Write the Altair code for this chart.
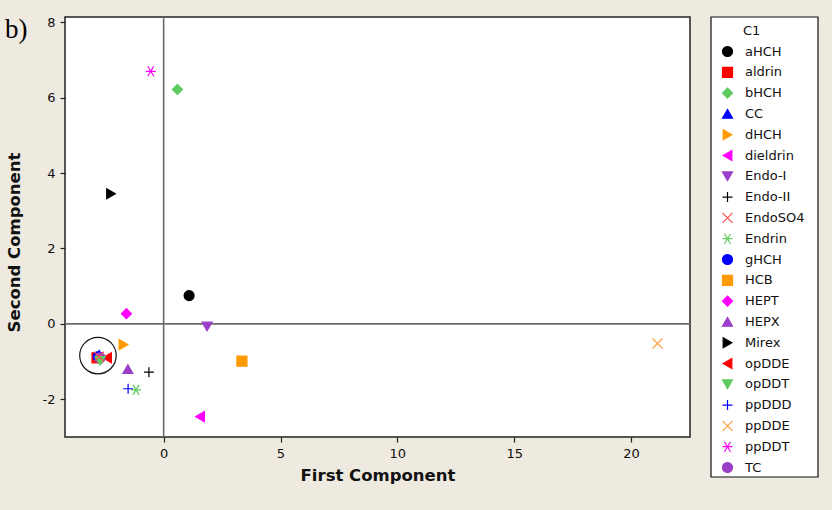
import altair as alt
import pandas as pd

# ---- data ----
names = ["aldrin", "opDDE", "CC", "gHCH", "TC", "opDDT", "EndoSO4",
         "aHCH", "bHCH", "dHCH", "dieldrin", "Endo-I", "Endo-II", "Endrin",
         "HCB", "HEPT", "HEPX", "Mirex", "ppDDD", "ppDDE", "ppDDT"]
first = [-2.85, -2.42, -2.76, -2.80, -2.72, -2.72, -2.76,
         1.09, 0.59, -1.72, 1.56, 1.86, -0.63, -1.18,
         3.35, -1.59, -1.53, -2.25, -1.52, 21.13, -0.55]
second = [-0.90, -0.90, -0.82, -0.87, -0.90, -0.98, -0.87,
          0.75, 6.22, -0.55, -2.46, -0.07, -1.28, -1.75,
          -0.99, 0.27, -1.20, 3.45, -1.72, -0.52, 6.70]

legend_order = ["aHCH", "aldrin", "bHCH", "CC", "dHCH", "dieldrin", "Endo-I",
                "Endo-II", "EndoSO4", "Endrin", "gHCH", "HCB", "HEPT", "HEPX",
                "Mirex", "opDDE", "opDDT", "ppDDD", "ppDDE", "ppDDT", "TC"]

BLACK, RED, GREEN, BLUE = "#000000", "#FF0000", "#5FCB5F", "#0000FF"
ORANGE, MAGENTA, PURPLE = "#FF9900", "#FF00FF", "#9B3FC9"
PLUS = "M-1,0L1,0M0,-1L0,1"
XSH = "M-1,-1L1,1M-1,1L1,-1"
AST = "M-1,0L1,0M-0.6,-1L0.6,1M-0.6,1L0.6,-1"

stroke_colors = [BLACK, RED, GREEN, BLUE, ORANGE, MAGENTA, PURPLE,
                 BLACK, "#FF5050", GREEN, BLUE, ORANGE, MAGENTA, PURPLE,
                 BLACK, RED, GREEN, BLUE, "#FFA040", MAGENTA, PURPLE]
shapes = ["circle", "square", "diamond", "triangle-up", "triangle-right",
          "triangle-left", "triangle-down", PLUS, XSH, AST, "circle", "square",
          "diamond", "triangle-up", "triangle-right", "triangle-left",
          "triangle-down", PLUS, XSH, AST, "circle"]
line_shapes = {PLUS, XSH, AST}
fill_colors = ["transparent" if s in line_shapes else c
               for s, c in zip(shapes, stroke_colors)]

df = pd.DataFrame({"C1": names, "First Component": first,
                   "Second Component": second})

circle_x = [-2.81]
circle_y = [-0.84]

W, H = 625, 420
XDOM = [-4.22, 22.52]
YDOM = [-3.0, 8.14]
FONT = "DejaVu Sans"
HYPHEN_LABEL = "datum.value < 0 ? '-' + abs(datum.value) : '' + datum.value"

xscale = alt.Scale(domain=XDOM, nice=False, zero=False)
yscale = alt.Scale(domain=YDOM, nice=False, zero=False)

xaxis = alt.Axis(values=[0, 5, 10, 15, 20], grid=False, domain=False,
                 tickSize=5, tickColor="#222", tickWidth=1.2,
                 labelFont=FONT, labelFontSize=13, labelColor="#111",
                 labelPadding=5, labelExpr=HYPHEN_LABEL,
                 title="First Component", titleFont=FONT,
                 titleFontSize=16.5, titleFontWeight="bold", titleColor="#111",
                 titlePadding=7)
yaxis = alt.Axis(values=[-2, 0, 2, 4, 6, 8], grid=False, domain=False,
                 tickSize=5, tickColor="#222", tickWidth=1.2,
                 labelFont=FONT, labelFontSize=13, labelColor="#111",
                 labelPadding=5, labelExpr=HYPHEN_LABEL,
                 title="Second Component", titleFont=FONT,
                 titleFontSize=16.5, titleFontWeight="bold", titleColor="#111",
                 titleX=-51, titleY=225, titleAngle=-90,
                 titleAlign="center", titleBaseline="middle")

base = alt.Chart(df)

points = base.mark_point(opacity=1, size=100, strokeWidth=1.2).encode(
    x=alt.X("First Component:Q", scale=xscale, axis=xaxis),
    y=alt.Y("Second Component:Q", scale=yscale, axis=yaxis),
    shape=alt.Shape("C1:N", scale=alt.Scale(domain=legend_order, range=shapes),
                    legend=alt.Legend(title=None)),
    fill=alt.Fill("C1:N", scale=alt.Scale(domain=legend_order, range=fill_colors),
                  legend=alt.Legend(title=None)),
    stroke=alt.Stroke("C1:N", scale=alt.Scale(domain=legend_order, range=stroke_colors),
                      legend=alt.Legend(title=None)),
)

zero_df = pd.DataFrame({"v": [0]})
vrule = alt.Chart(zero_df).mark_rule(color="#6b6b6b", strokeWidth=1.6).encode(
    x=alt.X("v:Q", scale=xscale))
hrule = alt.Chart(zero_df).mark_rule(color="#6b6b6b", strokeWidth=1.6).encode(
    y=alt.Y("v:Q", scale=yscale))

circ_df = pd.DataFrame({"cx": circle_x, "cy": circle_y})
ring = alt.Chart(circ_df).mark_point(shape="circle", size=1330, filled=False,
                                     color="#111", strokeWidth=1.2, opacity=1).encode(
    x=alt.X("cx:Q", scale=xscale), y=alt.Y("cy:Q", scale=yscale))

one = pd.DataFrame({"t": ["C1"]})
legend_box = alt.Chart(one).mark_rect(fill="white", stroke="#111", strokeWidth=1.2).encode(
    x=alt.value(646), x2=alt.value(753), y=alt.value(0), y2=alt.value(460))
legend_title = alt.Chart(one).mark_text(font=FONT, fontSize=13, color="#111",
                                        align="left", baseline="middle").encode(
    x=alt.value(678), y=alt.value(14), text="t:N")
label_b = alt.Chart(pd.DataFrame({"t": ["b)"]})).mark_text(
    font="Liberation Serif", fontSize=27, color="#000", align="left",
    baseline="middle").encode(x=alt.value(-60), y=alt.value(13), text="t:N")

chart = alt.layer(legend_box, legend_title, label_b, vrule, hrule, ring, points).properties(
    width=W, height=H,
    autosize=alt.AutoSizeParams(type="none"),
    padding={"left": 65, "top": 17, "right": 832 - 65 - W, "bottom": 510 - 17 - H},
    background="#EEEAE0",
).configure_view(
    fill="white", stroke="#222", strokeWidth=1.5
).configure_legend(
    orient="none", legendX=656, legendY=28, padding=0,
    symbolSize=100, symbolStrokeWidth=1.2, labelFont=FONT, labelFontSize=13,
    labelColor="#111", labelOffset=11, rowPadding=5.8,
)

chart.save("out.html", embed_options={"renderer": "svg", "actions": False})
